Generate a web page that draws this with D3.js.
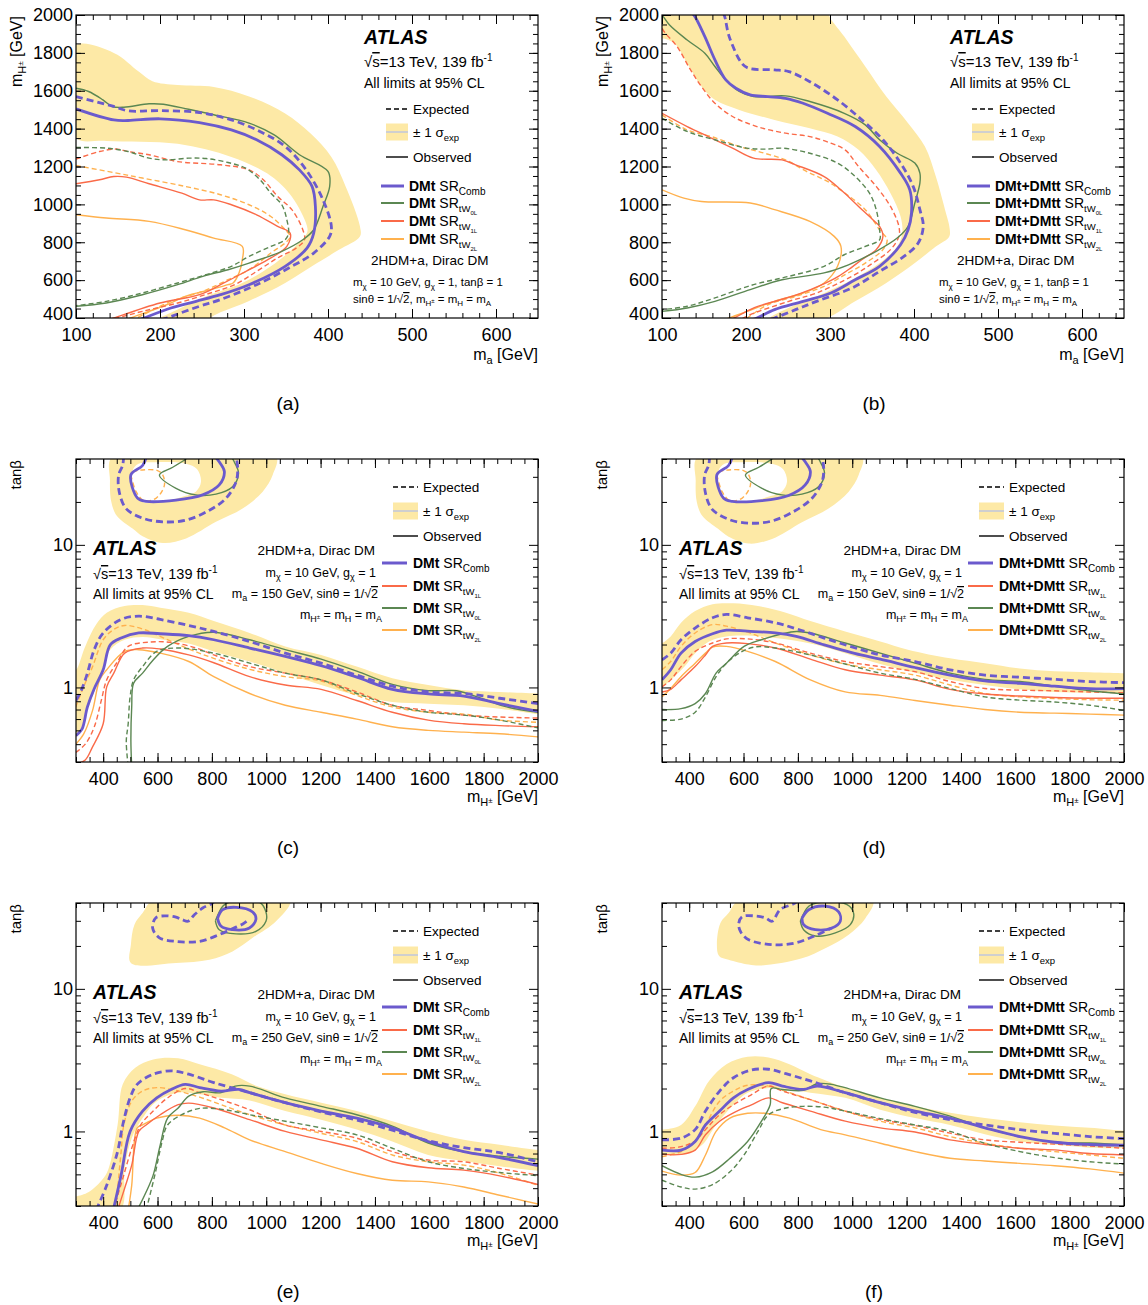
<!DOCTYPE html>
<html><head><meta charset="utf-8">
<script src="https://cdn.jsdelivr.net/npm/d3@7"></script>
<style>
body{margin:0;background:#fff}
svg{display:block}
text{font-family:"Liberation Sans",Arial,sans-serif;fill:#000}
</style></head>
<body><svg id="c" width="1148" height="1305"></svg>
<script>
// ---------------- axis domains & ticks ----------------
const MA_DOMAIN = [100, 650];
const MH_DOMAIN = [400, 2000];
const MHC_DOMAIN = [300, 2000];
const TB_DOMAIN = [0.3, 40];
const MA_MAJOR = [100, 200, 300, 400, 500, 600];
const MH_MAJOR = [400, 600, 800, 1000, 1200, 1400, 1600, 1800, 2000];
const MHC_MAJOR = [400, 600, 800, 1000, 1200, 1400, 1600, 1800, 2000];
const TB_MAJOR = [1, 10];
const TB_MINOR = [0.3, 0.4, 0.5, 0.6, 0.7, 0.8, 0.9, 2, 3, 4, 5, 6, 7, 8, 9, 20, 30, 40];
const CAPTIONS = ['(a)', '(b)', '(c)', '(d)', '(e)', '(f)'];

// ---------------- panel (a): DMt, tanb=1 ----------------
const A_BAND = [[100,1840],[145,1800],[175,1700],[191,1650],[221,1630],[264,1620],[306,1570],[349,1480],[379,1375],[404,1250],[421,1095],[438,885],[438,830],[413,760],[387,690],[349,585],[306,490],[272,430],[250,385],[196,385],[221,445],[255,515],[298,585],[332,673],[361,778],[375,850],[375,885],[357,1040],[332,1150],[285,1250],[221,1320],[136,1335],[100,1350],[90,1600]];
const A_COMB_OBS = [[100,1504],[145,1446],[162,1443],[200,1452],[247,1432],[285,1393],[315,1341],[345,1262],[366,1182],[381,1095],[385,989],[383,848],[375,769],[349,673],[306,576],[272,523],[243,488],[213,453],[181,400],[175,390]];
const A_COMB_EXP = [[100,1569],[145,1517],[162,1494],[200,1495],[247,1485],[285,1446],[319,1385],[349,1306],[374,1182],[394,1024],[404,884],[402,831],[383,743],[357,673],[315,576],[272,497],[247,462],[208,400],[200,388]];
const A_0L_OBS = [[100,1613],[115,1596],[132,1552],[143,1517],[157,1513],[187,1531],[204,1529],[234,1502],[264,1473],[306,1429],[336,1367],[366,1262],[400,1174],[402,1095],[394,989],[383,866],[370,813],[345,752],[306,690],[281,655],[251,620],[221,576],[179,523],[136,479],[100,462]];
const A_0L_EXP = [[100,1300],[136,1297],[162,1279],[187,1244],[208,1235],[234,1244],[255,1242],[281,1221],[302,1191],[319,1130],[332,1059],[345,998],[351,919],[353,848],[349,813],[332,778],[306,725],[285,673],[255,629],[221,585],[179,532],[136,488],[100,465]];
const A_1L_OBS = [[100,1109],[128,1130],[145,1147],[160,1144],[187,1109],[226,1059],[247,1024],[264,1024],[285,998],[315,945],[340,884],[355,848],[351,778],[332,717],[306,655],[276,585],[247,523],[200,479],[145,400],[135,385]];
const A_1L_EXP = [[100,1239],[128,1279],[149,1292],[162,1279],[187,1262],[221,1226],[272,1209],[306,1182],[323,1130],[340,1042],[357,972],[370,866],[372,813],[362,769],[340,717],[315,646],[289,576],[260,532],[221,479],[179,435],[149,400],[140,390]];
const A_2L_OBS = [[100,945],[136,928],[187,910],[230,866],[264,822],[298,778],[298,708],[294,637],[287,585],[281,576],[260,550],[230,514],[208,470],[165,400],[158,388]];
const A_2L_EXP = [[100,1205],[145,1168],[179,1139],[230,1095],[272,1051],[306,998],[332,936],[349,866],[355,831],[351,804],[332,743],[306,655],[281,602],[251,541],[213,488],[172,400],[165,388]];

// ---------------- panel (b): DMt+DMtt, tanb=1 ----------------
const B_BAND = [[95,2010],[302,2010],[299,2000],[317,1886],[342,1728],[367,1569],[393,1429],[413,1306],[426,1147],[438,954],[442,884],[442,831],[426,778],[401,690],[367,585],[330,488],[290,390],[226,390],[255,462],[284,514],[326,602],[359,690],[380,778],[386,848],[384,936],[372,1059],[355,1182],[334,1288],[309,1358],[276,1402],[234,1446],[192,1499],[163,1552],[147,1622],[130,1745],[115,1850],[100,1877],[95,1877]];
const B_COMB_OBS = [[135,2010],[138,2000],[151,1886],[163,1763],[176,1657],[188,1613],[205,1578],[226,1569],[247,1560],[268,1534],[297,1481],[330,1411],[359,1306],[384,1165],[395,1077],[397,954],[393,866],[384,787],[359,673],[330,602],[301,532],[268,488],[234,444],[213,400],[205,388]];
const B_COMB_EXP = [[172,2010],[174,2000],[180,1886],[195,1745],[203,1719],[234,1710],[251,1701],[276,1648],[309,1552],[338,1446],[363,1341],[384,1218],[399,1095],[407,972],[411,884],[405,796],[388,725],[359,646],[326,558],[284,488],[259,444],[234,400],[225,388]];
const B_0L_OBS = [[97,2010],[100,2000],[109,1947],[130,1868],[151,1798],[163,1728],[176,1657],[192,1596],[209,1569],[247,1573],[276,1543],[317,1481],[342,1420],[359,1341],[380,1270],[401,1218],[407,1165],[407,1112],[401,1007],[393,884],[380,822],[355,752],[322,681],[293,638],[243,602],[205,550],[163,488],[130,453],[100,435]];
const B_0L_EXP = [[100,1455],[130,1385],[163,1341],[201,1297],[226,1292],[243,1297],[276,1270],[309,1218],[330,1147],[347,1059],[355,972],[359,866],[359,813],[342,778],[317,734],[293,673],[251,620],[209,576],[163,506],[130,462],[100,444]];
const B_1L_OBS = [[100,1481],[130,1411],[155,1358],[184,1297],[209,1244],[243,1235],[259,1209],[293,1147],[313,1077],[334,989],[351,919],[359,884],[363,831],[355,761],[340,715],[325,665],[310,620],[290,575],[265,530],[240,495],[210,455],[186,400],[180,388]];
const B_1L_EXP = [[95,2010],[100,1930],[118,1833],[134,1710],[147,1622],[163,1534],[184,1464],[213,1411],[247,1376],[276,1358],[301,1323],[318,1288],[334,1200],[355,1095],[372,989],[382,884],[382,831],[372,761],[351,690],[326,620],[284,532],[251,488],[205,418],[197,400],[190,388]];
const B_2L_OBS = [[100,1077],[126,1033],[147,1015],[205,1007],[234,972],[276,910],[305,831],[313,778],[309,673],[293,585],[268,532],[234,488],[201,435],[180,400],[172,388]];
const B_2L_EXP = [[100,1473],[130,1393],[159,1358],[192,1306],[222,1270],[247,1235],[272,1174],[297,1121],[318,1059],[342,972],[359,866],[368,813],[363,761],[342,690],[318,629],[293,567],[259,514],[226,470],[201,400],[195,388]];

// ---------------- panel (c): DMt, ma=150 ----------------
const C_BAND = [[290,1.33],[300,1.33],[334,1.94],[374,2.76],[413,3.34],[479,3.72],[545,3.78],[610,3.62],[715,3.34],[807,2.92],[939,2.41],[1070,1.94],[1202,1.69],[1333,1.40],[1464,1.16],[1596,1.04],[1727,0.957],[1859,0.93],[2000,0.907],[2010,0.907],[2010,0.65],[2000,0.65],[1859,0.71],[1727,0.75],[1596,0.77],[1464,0.79],[1333,0.88],[1202,1.04],[1070,1.26],[939,1.52],[807,1.79],[715,2.03],[610,2.18],[545,2.26],[479,2.16],[426,1.84],[400,1.40],[374,1.01],[342,0.69],[316,0.5],[300,0.45],[290,0.45]];
const C_BAND_ISL = [[435,42],[425,28],[430,20],[450,16],[508,13],[545,11.5],[620,10.3],[705,11.1],[815,14.5],[913,18],[987,23.6],[1024,31],[1035,42]];
const C_BAND_HOLE = [[508,33],[515,24],[545,20],[640,20.5],[700,22],[741,23.6],[760,27.7],[745,34],[705,37],[600,38],[530,37]];
const C_COMB_OBS = [[300,0.46],[322,0.51],[342,0.73],[367,0.98],[400,1.33],[426,1.99],[466,2.22],[531,2.41],[610,2.38],[715,2.31],[807,2.16],[939,1.89],[1070,1.65],[1202,1.42],[1333,1.18],[1464,0.97],[1596,0.9],[1727,0.87],[1859,0.77],[2000,0.68]];
const C_COMB_EXP = [[300,0.81],[322,0.98],[342,1.26],[367,1.84],[400,2.41],[466,3.0],[531,3.16],[610,3.0],[715,2.72],[807,2.47],[939,2.10],[1070,1.74],[1202,1.48],[1333,1.22],[1464,1.02],[1596,0.93],[1727,0.907],[1859,0.84],[2000,0.77]];
const C_COMB_OBS_ISL = [[560,42],[545,36],[502,31],[527,21.2],[558,20.2],[668,20.6],[766,22.4],[827,26.3],[846,32.6],[830,37.5],[810,42]];
const C_COMB_EXP_ISL = [[475,42],[472,36.3],[457,30.9],[459,23.6],[484,18],[545,15.4],[619,14.5],[705,14.9],[791,17.5],[852,21.2],[889,27.7],[895,34.4],[889,42]];
const C_0L_OBS = [[505,0.28],[502,0.42],[505,0.73],[512,1.07],[545,1.26],[584,1.56],[637,1.94],[715,2.28],[807,2.44],[939,2.16],[1070,1.84],[1202,1.58],[1333,1.30],[1464,1.05],[1596,0.95],[1701,0.947],[1793,0.836],[1885,0.73],[2000,0.67]];
const C_0L_EXP = [[492,0.28],[485,0.42],[492,0.556],[499,0.859],[512,1.13],[545,1.40],[597,1.79],[676,1.89],[807,1.74],[939,1.48],[1070,1.26],[1202,1.13],[1333,0.907],[1464,0.75],[1596,0.67],[1727,0.64],[1859,0.59],[2000,0.52]];
const C_0L_OBS_ISL = [[720,42],[705,40],[656,35],[607,30.9],[668,24.9],[741,22.4],[815,22.7],[876,25.6],[898,31.8],[883,38],[870,42]];
const C_1L_OBS = [[299,0.29],[334,0.31],[360,0.38],[400,0.556],[413,1.01],[439,1.26],[479,1.74],[545,1.89],[610,1.86],[715,1.69],[807,1.49],[939,1.19],[1070,1.04],[1202,0.97],[1333,0.81],[1464,0.67],[1596,0.59],[1727,0.556],[1859,0.54],[2000,0.53]];
const C_1L_EXP = [[299,0.35],[334,0.40],[367,0.527],[393,0.81],[413,1.13],[453,1.52],[492,1.94],[571,2.08],[650,2.07],[742,1.89],[807,1.69],[939,1.40],[1070,1.26],[1202,1.13],[1333,0.93],[1464,0.75],[1596,0.69],[1727,0.64],[1859,0.62],[2000,0.61]];
const C_2L_OBS = [[299,0.40],[328,0.47],[361,0.69],[387,1.13],[413,1.33],[479,1.79],[531,1.84],[610,1.74],[715,1.52],[807,1.19],[939,0.907],[1070,0.75],[1202,0.67],[1333,0.60],[1464,0.53],[1596,0.50],[1727,0.486],[1859,0.473],[2000,0.45]];
const C_2L_EXP = [[299,0.73],[328,1.01],[361,1.40],[400,2.16],[439,2.55],[479,2.72],[545,2.57],[623,2.22],[715,1.86],[807,1.60],[939,1.34],[1070,1.19],[1202,1.11],[1333,0.88],[1464,0.73],[1596,0.67],[1727,0.65],[1859,0.59],[2000,0.57]];
const C_2L_EXP_ISL = [[502,31],[521,23.6],[551,20.4],[594,21.2],[625,26],[619,31],[600,33.2],[545,33.5],[510,32.5],[502,31]];

// ---------------- panel (d): DMt+DMtt, ma=150 ----------------
const D_BAND = [[290,2.05],[300,2.05],[332,2.28],[370,2.84],[422,3.43],[486,3.83],[563,3.89],[653,3.72],[756,3.34],[846,2.92],[974,2.47],[1103,2.1],[1205,1.84],[1360,1.60],[1488,1.48],[1617,1.36],[1745,1.30],[1874,1.28],[2000,1.26],[2010,1.26],[2010,0.907],[2000,0.907],[1874,0.917],[1745,0.93],[1617,0.97],[1488,1.04],[1360,1.13],[1231,1.27],[1103,1.46],[974,1.74],[846,2.03],[717,2.22],[615,2.31],[537,2.28],[473,2.10],[422,1.74],[383,1.40],[345,1.19],[300,1.01],[290,1.01]];
const D_BAND_ISL = [[433,42],[424,28],[428,20],[448,16],[505,13],[545,11.4],[620,10.2],[705,11.0],[815,14.4],[913,18],[987,23.6],[1024,31],[1035,42]];
const D_BAND_HOLE = [[508,33],[515,24],[545,20],[640,20.5],[700,22],[741,23.6],[760,27.7],[745,34],[705,37],[600,38],[530,37]];
const D_COMB_OBS = [[300,1.13],[332,1.33],[370,1.74],[422,2.10],[486,2.38],[537,2.52],[615,2.48],[717,2.41],[794,2.28],[897,1.99],[1032,1.69],[1103,1.58],[1231,1.38],[1360,1.22],[1488,1.11],[1617,1.07],[1745,1.02],[1874,0.98],[2000,0.98]];
const D_COMB_EXP = [[300,1.56],[332,1.74],[370,2.16],[422,2.61],[486,3.08],[537,3.25],[615,3.08],[717,2.84],[794,2.58],[897,2.22],[1032,1.84],[1103,1.69],[1231,1.52],[1360,1.33],[1488,1.22],[1617,1.18],[1745,1.14],[1874,1.10],[2000,1.08]];
const D_COMB_OBS_ISL = [[560,42],[545,36],[502,31],[527,21.2],[558,20.2],[668,20.4],[766,22.2],[827,26.3],[846,32.6],[830,37.5],[810,42]];
const D_COMB_EXP_ISL = [[475,42],[472,36.3],[457,30.9],[459,23.6],[484,17.8],[545,15.1],[619,14.2],[705,14.7],[791,17.4],[852,21.2],[889,27.7],[895,34.4],[889,42]];
const D_0L_OBS = [[300,0.70],[370,0.71],[422,0.77],[460,0.907],[499,1.26],[537,1.48],[602,1.94],[666,2.16],[743,2.38],[794,2.47],[846,2.41],[974,2.05],[1103,1.74],[1231,1.48],[1360,1.26],[1488,1.14],[1617,1.10],[1745,1.02],[1874,0.947],[2000,0.90]];
const D_0L_EXP = [[300,0.587],[370,0.60],[422,0.67],[460,0.859],[499,1.19],[537,1.48],[589,1.76],[640,1.92],[717,1.89],[846,1.69],[974,1.46],[1103,1.26],[1231,1.14],[1360,0.984],[1488,0.859],[1617,0.814],[1745,0.79],[1874,0.75],[2000,0.69]];
const D_0L_OBS_ISL = [[720,42],[705,40],[656,35],[607,30.9],[668,24.9],[741,22.4],[815,22.7],[876,25.6],[898,31.8],[883,38],[870,42]];
const D_1L_OBS = [[300,0.93],[332,0.97],[370,1.13],[422,1.40],[460,1.69],[486,1.94],[537,2.05],[615,2.03],[717,1.89],[846,1.58],[974,1.33],[1103,1.22],[1231,1.13],[1360,0.97],[1488,0.90],[1617,0.87],[1745,0.85],[1874,0.84],[2000,0.84]];
const D_1L_EXP = [[300,1.01],[332,1.13],[370,1.40],[422,1.79],[486,2.05],[537,2.19],[615,2.19],[717,2.05],[846,1.74],[974,1.52],[1103,1.40],[1231,1.29],[1360,1.10],[1488,0.984],[1617,0.957],[1745,0.947],[1874,0.93],[2000,0.917]];
const D_2L_OBS = [[300,0.86],[332,0.984],[370,1.19],[422,1.48],[460,1.74],[486,1.92],[537,1.94],[615,1.79],[717,1.52],[846,1.13],[974,0.93],[1103,0.88],[1231,0.81],[1360,0.75],[1488,0.70],[1617,0.67],[1745,0.66],[1874,0.65],[2000,0.64]];
const D_2L_EXP = [[300,1.33],[332,1.52],[370,1.94],[422,2.41],[486,2.76],[537,2.69],[615,2.44],[717,2.05],[846,1.69],[974,1.46],[1103,1.33],[1231,1.22],[1360,1.04],[1488,0.907],[1617,0.859],[1745,0.836],[1874,0.82],[2000,0.814]];
const D_2L_EXP_ISL = [[502,31],[521,23.6],[551,20.4],[594,21.2],[625,26],[619,31],[600,33.2],[545,33.5],[510,32.5],[502,31]];

// ---------------- panel (e): DMt, ma=250 ----------------
const E_BAND = [[290,0.35],[299,0.35],[347,0.376],[400,0.467],[420,0.55],[453,1.11],[472,2.14],[518,2.8],[584,3.2],[676,3.26],[755,2.96],[873,2.52],[965,2.08],[1070,1.82],[1202,1.59],[1333,1.39],[1464,1.18],[1596,1.0],[1727,0.873],[1859,0.805],[2000,0.742],[2010,0.742],[2010,0.53],[2000,0.53],[1859,0.57],[1727,0.62],[1596,0.684],[1464,0.85],[1333,1.03],[1202,1.21],[1070,1.39],[939,1.65],[834,1.72],[755,1.82],[676,1.87],[597,1.63],[545,1.24],[505,0.897],[479,0.55],[462,0.28],[290,0.28]];
const E_BAND_ISL = [[585,42],[545,34],[515,28.2],[502,20.4],[502,15.2],[668,15.2],[791,16],[876,18.3],[950,22.8],[1036,29.8],[1088,42]];
const E_COMB_OBS = [[437,0.28],[466,0.494],[499,1.0],[545,1.39],[597,1.72],[650,1.97],[702,2.14],[755,2.03],[834,1.92],[899,1.97],[939,1.87],[1070,1.59],[1202,1.39],[1333,1.24],[1464,1.06],[1596,0.85],[1727,0.722],[1859,0.655],[2000,0.575]];
const E_COMB_EXP = [[374,0.28],[413,0.419],[453,0.722],[472,1.11],[499,1.72],[525,2.14],[584,2.52],[650,2.66],[715,2.52],[807,2.2],[939,1.87],[1070,1.59],[1202,1.37],[1333,1.2],[1464,1.02],[1596,0.86],[1727,0.77],[1859,0.71],[2000,0.613]];
const E_COMB_OBS_ISL = [[821,31.2],[840,35.9],[889,37.3],[950,34.6],[962,30.7],[938,26.7],[876,26],[833,27.6],[821,31.2]];
const E_COMB_EXP_ISL = [[810,42],[803,40],[766,36.9],[735,33],[712,29.8],[692,30.5],[668,31.8],[631,32.5],[594,31.5],[582,26.7],[607,22.8],[668,21.5],[754,21.5],[827,24],[877,26.5],[914,28.5],[935,30.5]];
const E_0L_OBS = [[525,0.28],[558,0.376],[584,0.494],[610,0.805],[637,1.24],[676,1.46],[715,1.77],[768,1.9],[834,1.87],[886,2.08],[939,2.08],[1070,1.72],[1202,1.5],[1333,1.31],[1464,1.09],[1596,0.83],[1727,0.72],[1859,0.67],[2000,0.64]];
const E_0L_EXP = [[558,0.28],[590,0.494],[617,0.85],[637,1.11],[689,1.31],[755,1.45],[847,1.42],[939,1.31],[1070,1.18],[1202,1.06],[1333,0.947],[1464,0.762],[1596,0.613],[1727,0.55],[1859,0.515],[2000,0.49]];
const E_0L_OBS_ISL = [[813,30],[840,38],[864,40.5],[975,40.5],[999,34.6],[999,29.8],[962,25.3],[889,24.3],[827,26],[813,30]];
const E_1L_OBS = [[453,0.28],[479,0.4],[505,0.58],[531,1.0],[558,1.11],[610,1.31],[676,1.54],[715,1.58],[807,1.46],[939,1.21],[1070,1.0],[1202,0.873],[1333,0.762],[1464,0.613],[1596,0.556],[1727,0.535],[1859,0.488],[2000,0.424]];
const E_1L_EXP = [[437,0.28],[472,0.467],[505,0.762],[538,1.11],[584,1.39],[637,1.72],[702,2.0],[755,1.87],[834,1.67],[939,1.42],[1070,1.11],[1202,1.0],[1333,0.897],[1464,0.722],[1596,0.63],[1727,0.613],[1859,0.55],[2000,0.494]];
const E_2L_OBS = [[492,0.28],[505,0.419],[525,1.06],[545,1.11],[597,1.24],[676,1.3],[755,1.24],[847,1.06],[939,0.873],[1070,0.722],[1202,0.597],[1333,0.507],[1464,0.455],[1596,0.443],[1727,0.408],[1859,0.357],[2000,0.31]];
const E_2L_EXP = [[446,0.28],[466,0.722],[476,1.11],[505,1.63],[545,1.92],[597,2.03],[676,1.92],[755,1.74],[834,1.54],[939,1.31],[1070,1.11],[1202,0.97],[1333,0.85],[1464,0.684],[1596,0.613],[1727,0.581],[1859,0.51],[2000,0.419]];

// ---------------- panel (f): DMt+DMtt, ma=250 ----------------
const F_BAND = [[290,1.03],[300,1.03],[370,1.11],[422,1.5],[473,2.26],[537,2.96],[615,3.34],[692,3.3],[769,2.96],[846,2.52],[974,2.03],[1103,1.72],[1231,1.5],[1360,1.35],[1488,1.24],[1617,1.16],[1745,1.1],[1874,1.06],[2000,1.01],[2010,1.01],[2010,0.762],[2000,0.762],[1874,0.77],[1745,0.805],[1617,0.85],[1488,0.957],[1360,1.11],[1231,1.24],[1103,1.42],[974,1.72],[846,1.87],[743,2.0],[679,2.0],[615,1.87],[563,1.54],[499,1.11],[448,0.805],[396,0.7],[345,0.684],[300,0.684],[290,0.684]];
const F_BAND_ISL = [[585,42],[545,34],[515,29],[502,20.4],[510,17],[545,16],[619,14.8],[668,14.6],[815,16.4],[901,19.3],[987,24],[1048,31.2],[1076,42]];
const F_COMB_OBS = [[300,0.74],[370,0.74],[422,0.85],[460,1.11],[512,1.39],[563,1.72],[615,1.97],[692,2.2],[743,2.08],[820,1.97],[871,2.08],[974,1.87],[1103,1.59],[1231,1.39],[1360,1.24],[1488,1.06],[1617,0.92],[1745,0.84],[1874,0.81],[2000,0.80]];
const F_COMB_EXP = [[300,0.873],[370,0.897],[422,1.03],[460,1.39],[512,1.92],[563,2.38],[627,2.69],[692,2.73],[756,2.54],[846,2.26],[974,1.87],[1103,1.59],[1231,1.36],[1360,1.21],[1488,1.11],[1617,1.03],[1745,0.97],[1874,0.92],[2000,0.89]];
const F_COMB_OBS_ISL = [[815,31.2],[840,35.9],[901,38],[950,34.6],[956,29.8],[925,26.7],[864,26],[821,28.2],[815,31.2]];
const F_COMB_EXP_ISL = [[798,42],[790,40],[735,36],[705,29.8],[680,31.5],[640,32.5],[595,32],[582,28.5],[590,25],[619,22.1],[705,20.4],[791,21],[864,23.6],[925,26.7]];
const F_0L_OBS = [[300,0.575],[370,0.5],[422,0.478],[486,0.521],[550,0.648],[615,0.85],[666,1.18],[698,1.54],[702,2.0],[743,1.97],[820,1.94],[871,2.16],[923,2.14],[1103,1.72],[1231,1.5],[1360,1.28],[1488,1.06],[1617,0.92],[1745,0.84],[1874,0.83],[2000,0.805]];
const F_0L_EXP = [[300,0.455],[370,0.408],[422,0.394],[486,0.424],[550,0.521],[602,0.684],[653,1.0],[692,1.31],[756,1.46],[820,1.5],[897,1.48],[974,1.39],[1103,1.23],[1231,1.11],[1360,1.0],[1488,0.826],[1617,0.722],[1745,0.655],[1874,0.613],[2000,0.59]];
const F_0L_OBS_ISL = [[809,29.8],[840,38],[889,40.5],[981,39],[1005,34],[993,28.2],[938,24.7],[864,23.5],[821,26],[809,29.8]];
const F_1L_OBS = [[300,0.69],[370,0.69],[422,0.74],[460,0.947],[512,1.18],[563,1.35],[627,1.53],[692,1.72],[743,1.59],[846,1.39],[974,1.18],[1103,1.06],[1231,0.99],[1360,0.873],[1488,0.81],[1617,0.762],[1745,0.742],[1874,0.70],[2000,0.684]];
const F_1L_EXP = [[300,0.762],[370,0.782],[422,0.86],[460,1.03],[512,1.31],[563,1.54],[627,1.8],[692,2.08],[743,1.92],[846,1.67],[974,1.39],[1103,1.21],[1231,1.1],[1360,0.973],[1488,0.873],[1617,0.84],[1745,0.815],[1874,0.79],[2000,0.762]];
const F_2L_OBS = [[300,0.527],[370,0.494],[422,0.515],[460,0.684],[499,1.0],[550,1.24],[615,1.34],[679,1.34],[769,1.24],[884,1.03],[974,0.947],[1103,0.826],[1231,0.722],[1360,0.648],[1488,0.62],[1617,0.597],[1745,0.575],[1874,0.546],[2000,0.51]];
const F_2L_EXP = [[300,0.666],[370,0.722],[422,0.85],[460,1.11],[512,1.63],[563,1.92],[615,2.11],[692,2.08],[769,1.87],[846,1.67],[974,1.39],[1103,1.18],[1231,1.06],[1360,0.92],[1488,0.826],[1617,0.762],[1745,0.722],[1874,0.684],[2000,0.648]];

// ---------------- styles ----------------
const COLORS = {comb:'#6b5acd', l0:'#5b8752', l1:'#fa6a48', l2:'#ffb14e'};
const BAND_COLOR = '#fde9a6';
const W = 462, H = 303;
const COLX = [76, 662], ROWY = [15, 459, 903];

function cv(s, e, d){ return {s, e, d}; }
const PANELS = [
  {col:0,row:0,kind:'mass',prefix:'DMt',bands:[[A_BAND]],
   curves:[cv('l2',1,A_2L_EXP),cv('l2',0,A_2L_OBS),cv('l1',1,A_1L_EXP),cv('l1',0,A_1L_OBS),cv('l0',1,A_0L_EXP),cv('l0',0,A_0L_OBS),cv('comb',1,A_COMB_EXP),cv('comb',0,A_COMB_OBS)]},
  {col:1,row:0,kind:'mass',prefix:'DMt+DMtt',bands:[[B_BAND]],
   curves:[cv('l2',1,B_2L_EXP),cv('l2',0,B_2L_OBS),cv('l1',1,B_1L_EXP),cv('l1',0,B_1L_OBS),cv('l0',1,B_0L_EXP),cv('l0',0,B_0L_OBS),cv('comb',1,B_COMB_EXP),cv('comb',0,B_COMB_OBS)]},
  {col:0,row:1,kind:'tb',prefix:'DMt',ma:'150',bands:[[C_BAND],[C_BAND_ISL,C_BAND_HOLE]],
   curves:[cv('l2',1,C_2L_EXP),cv('l2',0,C_2L_OBS),cv('l2',1,C_2L_EXP_ISL),cv('l1',1,C_1L_EXP),cv('l1',0,C_1L_OBS),cv('l0',1,C_0L_EXP),cv('l0',0,C_0L_OBS),cv('l0',0,C_0L_OBS_ISL),cv('comb',1,C_COMB_EXP),cv('comb',0,C_COMB_OBS),cv('comb',1,C_COMB_EXP_ISL),cv('comb',0,C_COMB_OBS_ISL)]},
  {col:1,row:1,kind:'tb',prefix:'DMt+DMtt',ma:'150',bands:[[D_BAND],[D_BAND_ISL,D_BAND_HOLE]],
   curves:[cv('l2',1,D_2L_EXP),cv('l2',0,D_2L_OBS),cv('l2',1,D_2L_EXP_ISL),cv('l1',1,D_1L_EXP),cv('l1',0,D_1L_OBS),cv('l0',1,D_0L_EXP),cv('l0',0,D_0L_OBS),cv('l0',0,D_0L_OBS_ISL),cv('comb',1,D_COMB_EXP),cv('comb',0,D_COMB_OBS),cv('comb',1,D_COMB_EXP_ISL),cv('comb',0,D_COMB_OBS_ISL)]},
  {col:0,row:2,kind:'tb',prefix:'DMt',ma:'250',bands:[[E_BAND],[E_BAND_ISL]],
   curves:[cv('l2',1,E_2L_EXP),cv('l2',0,E_2L_OBS),cv('l1',1,E_1L_EXP),cv('l1',0,E_1L_OBS),cv('l0',1,E_0L_EXP),cv('l0',0,E_0L_OBS),cv('l0',0,E_0L_OBS_ISL),cv('comb',1,E_COMB_EXP),cv('comb',0,E_COMB_OBS),cv('comb',1,E_COMB_EXP_ISL),cv('comb',0,E_COMB_OBS_ISL)]},
  {col:1,row:2,kind:'tb',prefix:'DMt+DMtt',ma:'250',bands:[[F_BAND],[F_BAND_ISL]],
   curves:[cv('l2',1,F_2L_EXP),cv('l2',0,F_2L_OBS),cv('l1',1,F_1L_EXP),cv('l1',0,F_1L_OBS),cv('l0',1,F_0L_EXP),cv('l0',0,F_0L_OBS),cv('l0',0,F_0L_OBS_ISL),cv('comb',1,F_COMB_EXP),cv('comb',0,F_COMB_OBS),cv('comb',1,F_COMB_EXP_ISL),cv('comb',0,F_COMB_OBS_ISL)]}
];

const svg = d3.select('#c');

// rich text helper: parts [{t, s(shift px, +down), fs, b, i, o(overline)}]
function rich(sel, x, y, parts, size, anchor, extra) {
  const t = sel.append('text').attr('x', x).attr('y', y).attr('font-size', size)
    .attr('text-anchor', anchor || 'start');
  if (extra) extra(t);
  let cur = 0;
  parts.forEach(p => {
    const s = p.s || 0;
    const ts = t.append('tspan').text(p.t);
    if (s - cur !== 0) ts.attr('dy', s - cur);
    cur = s;
    if (p.fs) ts.attr('font-size', p.fs);
    if (p.b) ts.attr('font-weight', 'bold');
    if (p.i) ts.attr('font-style', 'italic');
    if (p.o) ts.attr('text-decoration', 'overline');
  });
  return t;
}

function srParts(prefix, key) {
  const base = [{t: prefix, b: 1}, {t: ' SR'}];
  if (key === 'comb') return base.concat([{t: 'Comb', s: 4, fs: 10}]);
  const n = {l0: '0L', l1: '1L', l2: '2L'}[key];
  return base.concat([{t: 'tW', s: 4, fs: 9.5}, {t: n, s: 7, fs: 6}]);
}

function legendBlock(g, L, prefix, order) {
  g.append('line').attr('x1', L.lx1).attr('x2', L.lx2).attr('y1', L.yE).attr('y2', L.yE)
    .attr('stroke', '#000').attr('stroke-width', 1.4).attr('stroke-dasharray', '5,3');
  rich(g, L.tx, L.yE + 5, [{t: 'Expected'}], 13.5);
  g.append('rect').attr('x', L.lx1).attr('y', L.yB - 8.5).attr('width', L.lx2 - L.lx1).attr('height', 17).attr('fill', BAND_COLOR);
  g.append('line').attr('x1', L.lx1).attr('x2', L.lx2).attr('y1', L.yB).attr('y2', L.yB)
    .attr('stroke', '#cfcfcf').attr('stroke-width', 2);
  rich(g, L.tx, L.yB + 5, [{t: '± 1 σ'}, {t: 'exp', s: 4, fs: 9.5}], 13.5);
  g.append('line').attr('x1', L.lx1).attr('x2', L.lx2).attr('y1', L.yO).attr('y2', L.yO)
    .attr('stroke', '#000').attr('stroke-width', 1.4);
  rich(g, L.tx, L.yO + 5, [{t: 'Observed'}], 13.5);
  order.forEach((k, i) => {
    const yy = L.ys[i];
    g.append('line').attr('x1', L.cx1).attr('x2', L.cx2).attr('y1', yy).attr('y2', yy)
      .attr('stroke', COLORS[k]).attr('stroke-width', k === 'comb' ? 3 : 2);
    rich(g, L.ctx, yy + 5, srParts(prefix, k), 14);
  });
}

function drawPanel(p, idx) {
  const g = svg.append('g').attr('transform', `translate(${COLX[p.col]},${ROWY[p.row]})`);
  const mass = p.kind === 'mass';
  const x = d3.scaleLinear().domain(mass ? MA_DOMAIN : MHC_DOMAIN).range([0, W]);
  const y = mass ? d3.scaleLinear().domain(MH_DOMAIN).range([H, 0])
                 : d3.scaleLog().domain(TB_DOMAIN).range([H, 0]);
  const cid = 'clip' + idx;
  g.append('clipPath').attr('id', cid).append('rect').attr('width', W).attr('height', H);
  const plot = g.append('g').attr('clip-path', `url(#${cid})`);

  const ring = d3.line().x(d => x(d[0])).y(d => y(d[1])).curve(d3.curveCatmullRomClosed.alpha(0.5));
  p.bands.forEach(rings => {
    plot.append('path').attr('d', rings.map(r => ring(r)).join(' '))
      .attr('fill', BAND_COLOR).attr('fill-rule', 'evenodd').attr('stroke', 'none');
  });
  const line = d3.line().x(d => x(d[0])).y(d => y(d[1])).curve(d3.curveCatmullRom.alpha(0.5));
  p.curves.forEach(c => {
    const thick = c.s === 'comb';
    plot.append('path').attr('d', line(c.d)).attr('fill', 'none')
      .attr('stroke', COLORS[c.s]).attr('stroke-width', thick ? 2.8 : 1.4)
      .attr('stroke-linejoin', 'round')
      .attr('stroke-dasharray', c.e ? (thick ? '7,4' : '5,3') : null);
  });

  g.append('rect').attr('width', W).attr('height', H).attr('fill', 'none').attr('stroke', '#000').attr('stroke-width', 1.2);

  let xMaj, xMin, yMaj, yMin;
  if (mass) {
    xMaj = MA_MAJOR; xMin = d3.range(100, 651, 20);
    yMaj = MH_MAJOR; yMin = d3.range(400, 2001, 50);
  } else {
    xMaj = MHC_MAJOR; xMin = d3.range(300, 2001, 50);
    yMaj = TB_MAJOR; yMin = TB_MINOR;
  }
  const styleAxis = s => { s.select('.domain').remove(); s.attr('font-size', 18).attr('font-family', '"Liberation Sans",Arial,sans-serif'); s.selectAll('line').attr('stroke-width', 1); };
  g.append('g').attr('transform', `translate(0,${H})`).call(d3.axisBottom(x).tickValues(xMaj).tickSize(-9).tickPadding(10).tickFormat(d3.format('d'))).call(styleAxis);
  g.append('g').attr('transform', `translate(0,${H})`).call(d3.axisBottom(x).tickValues(xMin).tickSize(-5).tickFormat('')).call(styleAxis);
  g.append('g').call(d3.axisTop(x).tickValues(xMaj).tickSize(-9).tickFormat('')).call(styleAxis);
  g.append('g').call(d3.axisTop(x).tickValues(xMin).tickSize(-5).tickFormat('')).call(styleAxis);
  const yl = g.append('g').call(d3.axisLeft(y).tickValues(yMaj).tickSize(-9).tickPadding(3).tickFormat(d3.format('d'))).call(styleAxis);
  if (mass) yl.selectAll('.tick text').filter(d => d === 400).attr('dy', '0.08em');
  g.append('g').call(d3.axisLeft(y).tickValues(yMin).tickSize(-5).tickFormat('')).call(styleAxis);
  g.append('g').attr('transform', `translate(${W},0)`).call(d3.axisRight(y).tickValues(yMaj).tickSize(-9).tickFormat('')).call(styleAxis);
  g.append('g').attr('transform', `translate(${W},0)`).call(d3.axisRight(y).tickValues(yMin).tickSize(-5).tickFormat('')).call(styleAxis);
  g.selectAll('.tick text').attr('fill', '#000');

  if (mass) {
    rich(g, W, H + 42, [{t: 'm'}, {t: 'a', s: 4, fs: 11}, {t: ' [GeV]', s: 0}], 16, 'end');
    rich(g, 0, 0, [{t: 'm'}, {t: 'H', s: 4, fs: 11}, {t: '±', s: 1, fs: 8}, {t: ' [GeV]', s: 0}], 16, 'end',
      t => t.attr('transform', `translate(-54,1) rotate(-90)`));
  } else {
    rich(g, W, H + 40, [{t: 'm'}, {t: 'H', s: 4, fs: 11}, {t: '±', s: 1, fs: 8}, {t: ' [GeV]', s: 0}], 16, 'end');
    rich(g, 0, 0, [{t: 'tanβ'}], 15, 'end', t => t.attr('transform', `translate(-55,1) rotate(-90)`));
  }

  g.append('text').attr('x', 212).attr('y', 395).attr('text-anchor', 'middle')
    .attr('font-size', 19).attr('font-family', '"Liberation Serif","Times New Roman",serif').text(CAPTIONS[idx]);

  if (mass) {
    rich(g, 288, 29, [{t: 'ATLAS', b: 1, i: 1}], 19.5);
    rich(g, 288, 52, [{t: '√'}, {t: 's', o: 1}, {t: '=13 TeV, 139 fb'}, {t: '-1', s: -6, fs: 10}], 15);
    rich(g, 288, 73, [{t: 'All limits at 95% CL'}], 14);
    legendBlock(g, {lx1: 310, lx2: 332, tx: 337, yE: 94, yB: 117, yO: 142,
      cx1: 305, cx2: 328, ctx: 333, ys: [171, 188, 206, 224]}, p.prefix, ['comb', 'l0', 'l1', 'l2']);
    rich(g, 295, 250, [{t: '2HDM+a, Dirac DM'}], 13.5);
    rich(g, 277, 271, [{t: 'm'}, {t: 'χ', s: 3, fs: 8}, {t: ' = 10 GeV, g', s: 0}, {t: 'χ', s: 3, fs: 8}, {t: ' = 1, tanβ = 1', s: 0}], 11.5);
    rich(g, 277, 288, [{t: 'sinθ = 1/√'}, {t: '2', o: 1}, {t: ', m'}, {t: 'H', s: 3, fs: 8}, {t: '±', s: 0, fs: 6}, {t: ' = m', s: 0}, {t: 'H', s: 3, fs: 8}, {t: ' = m', s: 0}, {t: 'A', s: 3, fs: 8}], 11.5);
  } else {
    rich(g, 17, 96, [{t: 'ATLAS', b: 1, i: 1}], 19.5);
    rich(g, 17, 120, [{t: '√'}, {t: 's', o: 1}, {t: '=13 TeV, 139 fb'}, {t: '-1', s: -6, fs: 10}], 14.5);
    rich(g, 17, 140, [{t: 'All limits at 95% CL'}], 14);
    rich(g, 299, 96, [{t: '2HDM+a, Dirac DM'}], 13.5, 'end');
    rich(g, 300, 118, [{t: 'm'}, {t: 'χ', s: 3, fs: 9}, {t: ' = 10 GeV, g', s: 0}, {t: 'χ', s: 3, fs: 9}, {t: ' = 1', s: 0}], 12.5, 'end');
    rich(g, 302, 139, [{t: 'm'}, {t: 'a', s: 3, fs: 9}, {t: ' = ' + p.ma + ' GeV, sinθ = 1/√', s: 0}, {t: '2', o: 1}], 12.5, 'end');
    rich(g, 306, 160, [{t: 'm'}, {t: 'H', s: 3, fs: 9}, {t: '±', s: 0, fs: 6}, {t: ' = m', s: 0}, {t: 'H', s: 3, fs: 9}, {t: ' = m', s: 0}, {t: 'A', s: 3, fs: 9}], 12.5, 'end');
    legendBlock(g, {lx1: 317, lx2: 342, tx: 347, yE: 28, yB: 52, yO: 77,
      cx1: 306, cx2: 331, ctx: 337, ys: [104, 127, 149, 171]}, p.prefix, ['comb', 'l1', 'l0', 'l2']);
  }
}

PANELS.forEach(drawPanel);
</script></body></html>
